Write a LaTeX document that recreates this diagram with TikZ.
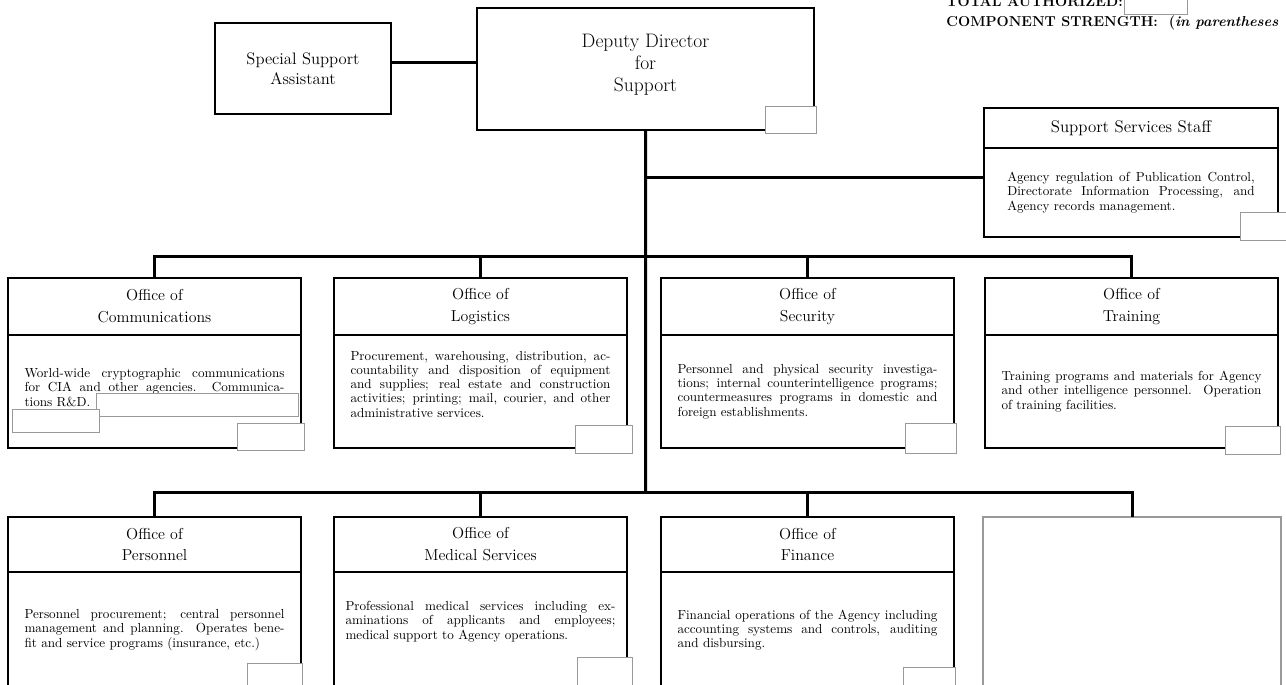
\documentclass[tikz,border=0pt]{standalone}
\usetikzlibrary{positioning}

\begin{document}
\begin{tikzpicture}[x = 0.8pt, y = -0.8pt,
	headbox/.style = {draw, line width = 1pt, outer sep = 0pt, anchor = north west, minimum width = 234.4pt, minimum height = 45.6pt, align = center, font = \fontsize{12.7}{17.5}\selectfont},
	bodybox/.style = {draw, line width = 1pt, outer sep = 0pt, minimum width = 234.4pt, minimum height = 90.4pt, text width = 208pt, align = justify, font = \fontsize{10.5}{11.4}\selectfont},
	boss/.style = {draw, line width = 1pt, outer sep = 0pt, anchor = north west, align = center},
	blankbox/.style = {draw = black!40, fill = white, line width = 0.6pt},
	wire/.style = {line width = 2.4pt}]
		\useasboundingbox (0,0) rectangle (1286,685);
		\clip (0,0) rectangle (1286,685);
		\node[boss, minimum width = 269.6pt, minimum height = 97.6pt, text depth = 9.5pt, font = \fontsize{15.6}{17.6}\selectfont] (dep) at (477,8) {Deputy Director\\for\\Support};
		\node[boss, minimum width = 140.8pt, minimum height = 72.8pt, font = \fontsize{13.3}{15.8}\selectfont] (ssa) at (215,23) {Special Support\\Assistant};
		\node[headbox, minimum width = 235.2pt, minimum height = 32pt, font = \fontsize{13.5}{17.5}\selectfont] (sss) at (984,108) {Support Services Staff};
		\node[bodybox, below = 0pt of sss, minimum width = 235.2pt, minimum height = 71.2pt, text width = 198pt] (ssstxt) {Agency regulation of Publication Control,\linebreak Directorate Information Processing, and\linebreak Agency records management.};
		\node[headbox] (comm) at (8,278) {Office of\\Communications};
		\node[bodybox, below = 0pt of comm, text depth = 29.4pt] (commtxt) {World-wide cryptographic communications\linebreak for CIA and other agencies.\ \ Communica-\linebreak tions R\&D.};
		\node[headbox] (log) at (334,278) {Office of\\Logistics};
		\node[bodybox, below = 0pt of log, text depth = 57.6pt] (logtxt) {Procurement, warehousing, distribution, ac-\linebreak countability and disposition of equipment\linebreak and supplies; real estate and construction\linebreak activities; printing; mail, courier, and other\linebreak administrative services.};
		\node[headbox] (sec) at (661,278) {Office of\\Security};
		\node[bodybox, below = 0pt of sec] (sectxt) {Personnel and physical security investiga-\linebreak tions; internal counterintelligence programs;\linebreak countermeasures programs in domestic and\linebreak foreign establishments.};
		\node[headbox] (train) at (985,278) {Office of\\Training};
		\node[bodybox, below = 0pt of train] (traintxt) {Training programs and materials for Agency\linebreak and other intelligence personnel.\ \ Operation\linebreak of training facilities.};
		\node[headbox, minimum height = 44pt] (pers) at (8,517) {Office of\\Personnel};
		\node[bodybox, below = 0pt of pers, minimum height = 92.8pt] (perstxt) {Personnel procurement; central personnel\linebreak management and planning.\ \ Operates bene-\linebreak fit and service programs (insurance, etc.)};
		\node[headbox, minimum height = 44pt] (med) at (334,517) {Office of\\Medical Services};
		\node[bodybox, below = 0pt of med, minimum height = 92.8pt, text width = 216pt, text depth = 38.4pt] (medtxt) {Professional medical services including ex-\linebreak aminations of applicants and employees;\linebreak medical support to Agency operations.};
		\node[headbox, minimum height = 44pt] (fin) at (661,517) {Office of\\Finance};
		\node[bodybox, below = 0pt of fin, minimum height = 92.8pt] (fintxt) {Financial operations of the Agency including\linebreak accounting systems and controls, auditing\linebreak and disbursing.};
		\node[boss, draw = black!40, minimum width = 238.4pt, minimum height = 200pt] (spare) at (983,517) {};
		\node[anchor = base west, font = \fontsize{11.5}{14}\bfseries] (total) at (942,7) {TOTAL AUTHORIZED:};
		\node[anchor = base west, font = \fontsize{11.5}{14}\bfseries] (strength) at (942,27) {COMPONENT STRENGTH:\ \ (\textit{in parentheses}};
		\coordinate (s0) at ([yshift = 4.4pt]ssa.east);
		\coordinate (t0) at (645.5,178);
		\coordinate (t1) at (645.5,257);
		\coordinate (t2) at (645.5,492);
		\draw[wire] (s0) -- (s0 -| dep.west);
		\draw[wire] (dep.south) -- (t2);
		\draw[wire] (t0) -- (t0 -| ssstxt.west);
		\draw[wire] (comm.north) |- (t1) -| (train.north);
		\draw[wire] (log.north) -- (log.north |- t1);
		\draw[wire] (sec.north) -- (sec.north |- t1);
		\draw[wire] (pers.north) |- (t2) -| (spare.north);
		\draw[wire] (med.north) -- (med.north |- t2);
		\draw[wire] (fin.north) -- (fin.north |- t2);
		\draw[blankbox] (1124,-2) rectangle (1187,14);
		\draw[blankbox] (765,106) rectangle (816,133);
		\draw[blankbox] (1240,212) rectangle (1290,240);
		\draw[blankbox] (96,393) rectangle (298,416);
		\draw[blankbox] (12,409) rectangle (99,432);
		\draw[blankbox] (237,423) rectangle (304,450);
		\draw[blankbox] (575,425) rectangle (632,453);
		\draw[blankbox] (905,423) rectangle (956,453);
		\draw[blankbox] (1225,426) rectangle (1280,454);
		\draw[blankbox] (247,663) rectangle (302,690);
		\draw[blankbox] (577,657) rectangle (632,690);
		\draw[blankbox] (903,667) rectangle (955,690);
	\end{tikzpicture}
\end{document}
